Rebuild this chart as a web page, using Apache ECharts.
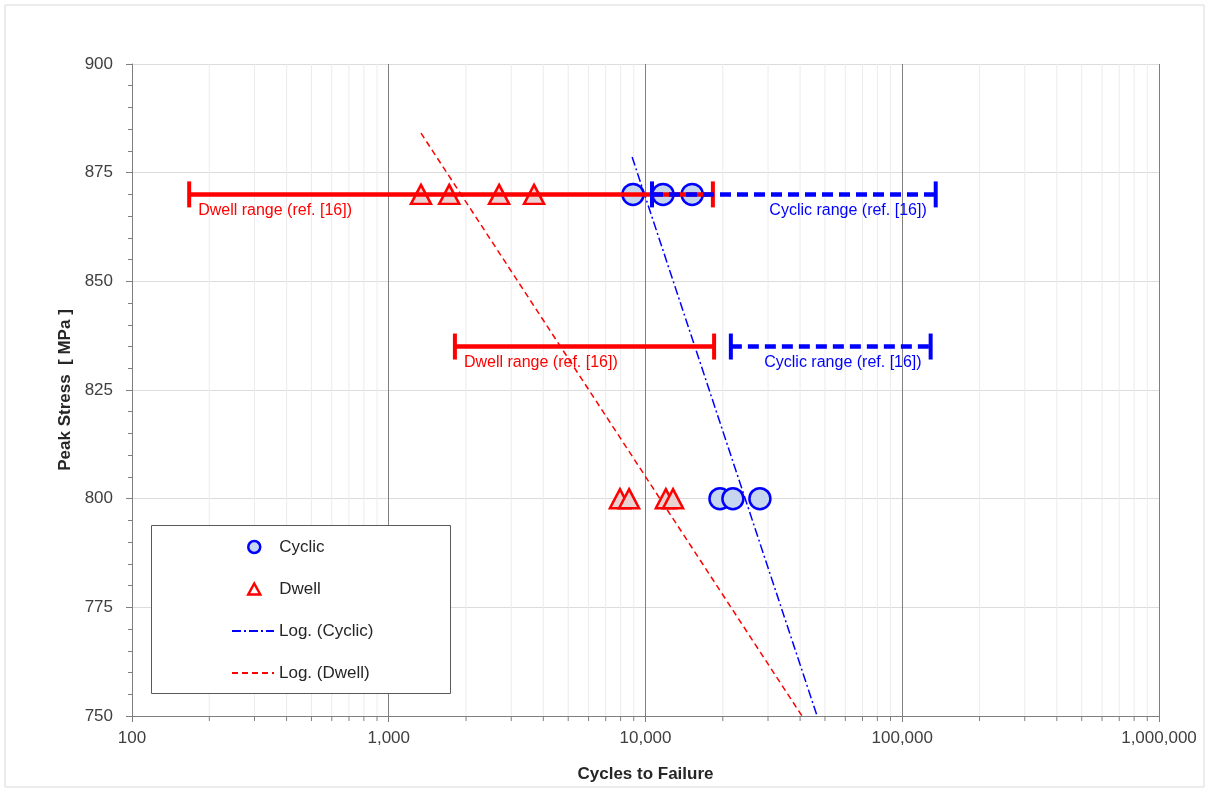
<!DOCTYPE html>
<html>
<head>
<meta charset="utf-8">
<script src="https://cdn.jsdelivr.net/npm/echarts@6/dist/echarts.min.js"></script>
<style>
  html, body { margin: 0; padding: 0; background: #fff; }
  #chart { width: 1208px; height: 789px; }
</style>
</head>
<body>
<div id="chart"></div>
<script>
// test points [cycles, peak stress]
const cyclicPts = [[8940, 870], [11700, 870], [15200, 870], [19500, 800], [21900, 800], [27900, 800]];
const dwellPts = [[1335, 870], [1720, 870], [2690, 870], [3680, 870], [7950, 800], [8630, 800], [12000, 800], [12800, 800]];

// log trend lines, end points
const cyclicTrend = [[8870, 878.6], [46600, 750]];
const dwellTrend = [[1335, 884.1], [40700, 750]];

// ranges from ref. [16]: [from, to, stress]
const dwellRanges = [[167, 18300, 870], [1810, 18500, 835]];
const cyclicRanges = [[10600, 135000, 870], [21500, 129000, 835]];

const yTicks = [750, 775, 800, 825, 850, 875, 900];
// minor grid of the log axis: 2..9 in each decade
const minorVals = [];
for (let d = 100; d < 1000000; d *= 10) {
  for (let k = 2; k <= 9; k += 1) minorVals.push(d * k);
}

const FONT = 'Liberation Sans';
const RED = '#ff0000';
const BLUE = '#0000ff';

const myChart = echarts.init(document.getElementById('chart'));

function rangeRender(color, dashed, labelLeft) {
  return (params, api) => {
    const a = api.coord([api.value(0), api.value(2)]);
    const b = api.coord([api.value(1), api.value(2)]);
    const style = { stroke: color, lineWidth: 4.5, lineDash: dashed ? [11, 6] : null };
    const capStyle = { stroke: color, lineWidth: 4 };
    return {
      type: 'group',
      children: [
        { type: 'line', shape: { x1: a[0], y1: a[1], x2: b[0], y2: a[1] }, style },
        { type: 'line', shape: { x1: a[0], y1: a[1] - 13, x2: a[0], y2: a[1] + 13 }, style: capStyle },
        { type: 'line', shape: { x1: b[0], y1: b[1] - 13, x2: b[0], y2: b[1] + 13 }, style: capStyle },
        {
          type: 'text',
          x: labelLeft ? a[0] + 9 : b[0] - 9,
          y: a[1] + 16,
          style: {
            text: labelLeft ? 'Dwell range (ref. [16])' : 'Cyclic range (ref. [16])',
            fill: color,
            font: '16px ' + FONT,
            align: labelLeft ? 'left' : 'right',
            verticalAlign: 'middle',
          },
        },
      ],
    };
  };
}

// one legend per row so each row sits where the reference has it
function oneLegend(name, top, opts) {
  const item = { name };
  if (opts.itemStyle) item.itemStyle = opts.itemStyle;
  return {
    data: [item],
    left: opts.left,
    top,
    z: 20,
    orient: 'vertical',
    padding: 0,
    itemWidth: opts.w,
    itemHeight: opts.h,
    selectedMode: false,
    textStyle: {
      fontFamily: FONT, fontSize: 17, color: '#262626', lineHeight: 20,
      padding: [0, 0, 0, opts.textPad || 0],
    },
  };
}

const option = {
  animation: false,
  backgroundColor: '#fff',
  grid: { left: 132, right: 49, top: 64, bottom: 73 },
  xAxis: {
    type: 'log',
    logBase: 10,
    min: 100,
    max: 1000000,
    name: 'Cycles to Failure',
    nameLocation: 'middle',
    nameGap: 50,
    nameTextStyle: { fontFamily: FONT, fontSize: 17, fontWeight: 'bold', color: '#262626' },
    axisLine: { lineStyle: { color: '#7f7f7f', width: 1 } },
    axisTick: { length: 6, lineStyle: { color: '#7f7f7f' } },
    axisLabel: {
      fontFamily: FONT, fontSize: 17, color: '#404040', margin: 14,
      formatter: (v) => Number(v).toLocaleString('en-US'),
    },
    splitLine: { show: true, lineStyle: { color: '#808080', width: 1 } },
  },
  yAxis: {
    type: 'value',
    min: 750,
    max: 900,
    interval: 25,
    name: 'Peak Stress  [ MPa ]',
    nameLocation: 'middle',
    nameGap: 56,
    nameTextStyle: { fontFamily: FONT, fontSize: 17, fontWeight: 'bold', color: '#262626' },
    axisLine: { show: true, lineStyle: { color: '#7f7f7f', width: 1 } },
    axisTick: { show: true, length: 6, lineStyle: { color: '#7f7f7f' } },
    minorTick: { show: true, splitNumber: 5, length: 4, lineStyle: { color: '#7f7f7f' } },
    axisLabel: {
      fontFamily: FONT, fontSize: 17, color: '#404040', margin: 19,
      customValues: yTicks,
    },
    splitLine: { show: true, lineStyle: { color: '#dcdcdc', width: 1 } },
  },
  legend: [
    oneLegend('Cyclic', 537, {
      left: 247, w: 12, h: 12, textPad: 14,
      itemStyle: { color: '#c6d6ef', borderColor: BLUE, borderWidth: 2.5 },
    }),
    oneLegend('Dwell', 579, {
      left: 247, w: 12, h: 11, textPad: 14,
      itemStyle: { color: '#ffffff', borderColor: RED, borderWidth: 2.5 },
    }),
    oneLegend('Log. (Cyclic)', 621, { left: 231, w: 42, h: 12, itemStyle: { opacity: 0 } }),
    oneLegend('Log. (Dwell)', 663, { left: 231, w: 42, h: 12, itemStyle: { opacity: 0 } }),
  ],
  graphic: [
    {
      type: 'rect',
      shape: { x: 5, y: 5, width: 1199, height: 782 },
      style: { fill: 'none', stroke: '#d9d9d9', lineWidth: 1 },
      z: 0,
    },
    {
      type: 'rect',
      shape: { x: 151.5, y: 525.5, width: 299, height: 168 },
      style: { fill: '#ffffff', stroke: '#595959', lineWidth: 1 },
      z: 10,
    },
  ],
  series: [
    {
      name: 'minor',
      type: 'custom',
      z: 1,
      clip: false,
      silent: true,
      encode: { x: 0 },
      data: minorVals.map((v) => [v]),
      renderItem: (params, api) => {
        const lo = api.coord([api.value(0), 750]);
        const hi = api.coord([api.value(0), 900]);
        return {
          type: 'group',
          children: [
            { type: 'line', shape: { x1: lo[0], y1: lo[1], x2: hi[0], y2: hi[1] }, style: { stroke: '#ececec', lineWidth: 1 } },
            { type: 'line', shape: { x1: lo[0], y1: lo[1], x2: lo[0], y2: lo[1] + 5 }, style: { stroke: '#7f7f7f', lineWidth: 1 } },
          ],
        };
      },
    },
    {
      name: 'Log. (Cyclic)',
      type: 'line',
      z: 3,
      data: cyclicTrend,
      symbol: 'none',
      lineStyle: { color: BLUE, width: 1.5, type: [9, 3, 2, 3] },
      itemStyle: { color: BLUE },
    },
    {
      name: 'Log. (Dwell)',
      type: 'line',
      z: 3,
      data: dwellTrend,
      symbol: 'none',
      lineStyle: { color: RED, width: 1.5, type: [6, 4] },
      itemStyle: { color: RED },
    },
    {
      name: 'Cyclic',
      type: 'scatter',
      z: 4,
      data: cyclicPts,
      symbol: 'circle',
      symbolSize: 21,
      itemStyle: { color: '#c6d6ef', borderColor: BLUE, borderWidth: 2.5, opacity: 1 },
    },
    {
      name: 'Dwell',
      type: 'scatter',
      z: 4,
      data: dwellPts,
      symbol: 'triangle',
      symbolSize: [20, 19],
      itemStyle: { color: '#ead2d2', borderColor: RED, borderWidth: 2.5, opacity: 1 },
    },
    {
      name: 'dwellRange',
      type: 'custom',
      z: 5,
      encode: { x: [0, 1], y: 2 },
      data: dwellRanges,
      renderItem: rangeRender(RED, false, true),
    },
    {
      name: 'cyclicRange',
      type: 'custom',
      z: 5,
      encode: { x: [0, 1], y: 2 },
      data: cyclicRanges,
      renderItem: rangeRender(BLUE, true, false),
    },
  ],
};

myChart.setOption(option);
</script>
</body>
</html>
